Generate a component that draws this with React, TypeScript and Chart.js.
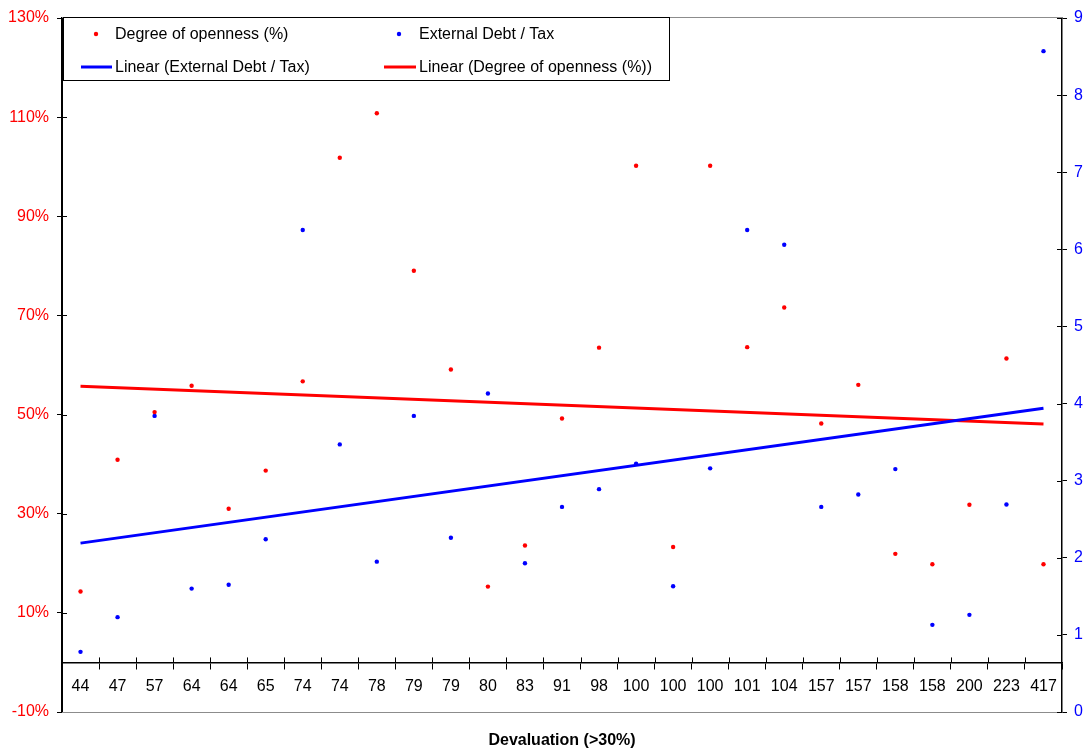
import React, { useEffect, useRef } from "react";
import { Chart, registerables } from "chart.js";

Chart.register(...registerables);

// ---- Data ----
const categories = [
  "44", "47", "57", "64", "64", "65", "74", "74", "78", "79", "79", "80", "83", "91",
  "98", "100", "100", "100", "101", "104", "157", "157", "158", "158", "200", "223", "417",
];
const opennessPct = [
  14.3, 40.9, 50.5, 55.8, 31.0, 38.7, 56.7, 101.8, 110.8, 79.0, 59.1, 15.3, 23.6, 49.2,
  63.5, 100.2, 23.3, 100.2, 63.6, 71.6, 48.2, 56.0, 21.9, 19.8, 31.8, 61.3, 19.8,
];
const debtToTax = [
  0.78, 1.23, 3.84, 1.6, 1.65, 2.24, 6.25, 3.47, 1.95, 3.84, 2.26, 4.13, 1.93, 2.66,
  2.89, 3.22, 1.63, 3.16, 6.25, 6.06, 2.66, 2.82, 3.15, 1.13, 1.26, 2.69, 8.57,
];
// Linear trend lines: values at first and last category
const opennessTrendEnds = [55.7, 48.1];
const debtTrendEnds = [2.19, 3.94];

const leftAxis = { min: -10, max: 130, step: 20 };
const rightAxis = { min: 0, max: 9, step: 1 };

const xTitle = "Devaluation (>30%)";
const legendRows = [
  ["Degree of openness (%)", "External Debt / Tax"],
  ["Linear (External Debt / Tax)", "Linear (Degree of openness (%))"],
];

const RED = "#FF0000";
const BLUE = "#0000FF";
const FONT = "'Liberation Sans', Arial, sans-serif";

const endsToSeries = (ends: number[]) =>
  categories.map((_, i) => (i === 0 ? ends[0] : i === categories.length - 1 ? ends[1] : null));

const decorPlugin = {
  id: "decor",
  beforeDatasetsDraw(chart: any) {
    const { ctx, chartArea: a, scales } = chart;
    ctx.save();
    // top & bottom frame lines
    ctx.strokeStyle = "#8c8c8c";
    ctx.lineWidth = 1;
    ctx.beginPath();
    ctx.moveTo(a.left, a.top - 0.5);
    ctx.lineTo(a.right, a.top - 0.5);
    ctx.moveTo(a.left, a.bottom + 0.5);
    ctx.lineTo(a.right, a.bottom + 0.5);
    ctx.stroke();
    // inner parts of tick marks
    ctx.strokeStyle = "#000";
    ctx.beginPath();
    const yt = scales.y.ticks;
    yt.forEach((t: any, i: number) => {
      if (i === 0 || i === yt.length - 1) return;
      const py = Math.round(scales.y.getPixelForValue(t.value)) + 0.5;
      ctx.moveTo(a.left, py);
      ctx.lineTo(a.left + 5, py);
    });
    scales.y1.ticks.forEach((t: any) => {
      const py = Math.round(scales.y1.getPixelForValue(t.value)) + 0.5;
      ctx.moveTo(a.right - 5, py);
      ctx.lineTo(a.right, py);
    });
    const y0 = scales.y.getPixelForValue(0);
    for (let i = 1; i < categories.length; i++) {
      const px = Math.round((scales.x.getPixelForValue(i - 1) + scales.x.getPixelForValue(i)) / 2) + 0.5;
      ctx.moveTo(px, y0 - 5);
      ctx.lineTo(px, y0);
    }
    ctx.stroke();
    ctx.restore();
  },
  afterDraw(chart: any) {
    const { ctx, chartArea: a } = chart;
    ctx.save();
    // Legend box
    const lx = a.left + 1;
    const ly = a.top - 0.5;
    const lw = 606;
    const lh = 63;
    ctx.fillStyle = "#fff";
    ctx.fillRect(lx, ly, lw, lh);
    ctx.strokeStyle = "#000";
    ctx.lineWidth = 1;
    ctx.strokeRect(lx + 0.5, ly, lw, lh);
    ctx.font = `16px ${FONT}`;
    ctx.textBaseline = "middle";
    ctx.textAlign = "left";
    const colX = [lx + 52, lx + 356];
    const rowY = [ly + 17, ly + 50];
    // row 1 : markers
    ctx.fillStyle = RED;
    ctx.beginPath();
    ctx.arc(lx + 33, rowY[0] - 0.5, 2.2, 0, Math.PI * 2);
    ctx.fill();
    ctx.fillStyle = BLUE;
    ctx.beginPath();
    ctx.arc(lx + 336, rowY[0] - 0.5, 2.2, 0, Math.PI * 2);
    ctx.fill();
    // row 2 : line samples
    ctx.lineWidth = 3;
    ctx.strokeStyle = BLUE;
    ctx.beginPath();
    ctx.moveTo(lx + 18, rowY[1] - 0.5);
    ctx.lineTo(lx + 49, rowY[1] - 0.5);
    ctx.stroke();
    ctx.strokeStyle = RED;
    ctx.beginPath();
    ctx.moveTo(lx + 321, rowY[1] - 0.5);
    ctx.lineTo(lx + 353, rowY[1] - 0.5);
    ctx.stroke();
    ctx.fillStyle = "#000";
    legendRows.forEach((row, r) => {
      row.forEach((txt, c) => ctx.fillText(txt, colX[c], rowY[r] + 0.5));
    });
    // X axis title
    ctx.font = `bold 16px ${FONT}`;
    ctx.textAlign = "center";
    ctx.fillText(xTitle, (a.left + a.right) / 2, a.bottom + 28.5);
    ctx.restore();
  },
};

export default function App() {
  const ref = useRef<HTMLCanvasElement>(null);
  useEffect(() => {
    const canvas = ref.current;
    if (!canvas) return;
    const chart = new Chart(canvas, {
      type: "line",
      data: {
        labels: categories,
        datasets: [
          {
            label: "Degree of openness (%)",
            data: opennessPct,
            yAxisID: "y",
            showLine: false,
            pointRadius: 2.2,
            pointBorderWidth: 0,
            pointBackgroundColor: RED,
            borderColor: RED,
            backgroundColor: RED,
          },
          {
            label: "External Debt / Tax",
            data: debtToTax,
            yAxisID: "y1",
            showLine: false,
            pointRadius: 2.2,
            pointBorderWidth: 0,
            pointBackgroundColor: BLUE,
            borderColor: BLUE,
            backgroundColor: BLUE,
          },
          {
            label: "Linear (External Debt / Tax)",
            data: endsToSeries(debtTrendEnds),
            yAxisID: "y1",
            spanGaps: true,
            borderColor: BLUE,
            borderWidth: 3,
            pointRadius: 0,
          },
          {
            label: "Linear (Degree of openness (%))",
            data: endsToSeries(opennessTrendEnds),
            yAxisID: "y",
            spanGaps: true,
            borderColor: RED,
            borderWidth: 3,
            pointRadius: 0,
          },
        ],
      } as any,
      options: {
        animation: false,
        responsive: true,
        maintainAspectRatio: false,
        layout: { padding: { top: 18, bottom: 41, left: 0, right: 0 } },
        plugins: {
          legend: { display: false },
          title: { display: false },
          tooltip: { enabled: false },
        },
        scales: {
          x: {
            type: "category",
            position: { y: 0 } as any,
            offset: true,
            grid: {
              display: true,
              drawOnChartArea: false,
              drawTicks: true,
              tickLength: 6,
              offset: true,
              color: "#000",
              lineWidth: 1,
            },
            border: { display: true, color: "#000", width: 1.5 },
            ticks: {
              color: "#000",
              font: { family: FONT, size: 16 },
              padding: 9,
              maxRotation: 0,
              autoSkip: false,
            },
          },
          y: {
            type: "linear",
            position: "left",
            min: leftAxis.min,
            max: leftAxis.max,
            afterFit: (s: any) => {
              s.width = 62;
            },
            grid: { drawOnChartArea: false, tickLength: 5, color: "#000", lineWidth: 1 },
            border: { display: true, color: "#000", width: 2 },
            ticks: {
              stepSize: leftAxis.step,
              color: RED,
              padding: 8,
              font: { family: FONT, size: 16 },
              callback: (v: any) => `${v}%`,
            },
          },
          y1: {
            type: "linear",
            position: "right",
            min: rightAxis.min,
            max: rightAxis.max,
            afterFit: (s: any) => {
              s.width = 29;
            },
            grid: { drawOnChartArea: false, tickLength: 5, color: "#000", lineWidth: 1 },
            border: { display: true, color: "#000", width: 1.5 },
            ticks: {
              stepSize: rightAxis.step,
              color: BLUE,
              padding: 7,
              font: { family: FONT, size: 16 },
            },
          },
        },
      },
      plugins: [decorPlugin],
    } as any);
    return () => chart.destroy();
  }, []);

  return (
    <div style={{ position: "fixed", left: 0, top: 0, width: 1091, height: 753, background: "#fff" }}>
      <canvas ref={ref} />
    </div>
  );
}
